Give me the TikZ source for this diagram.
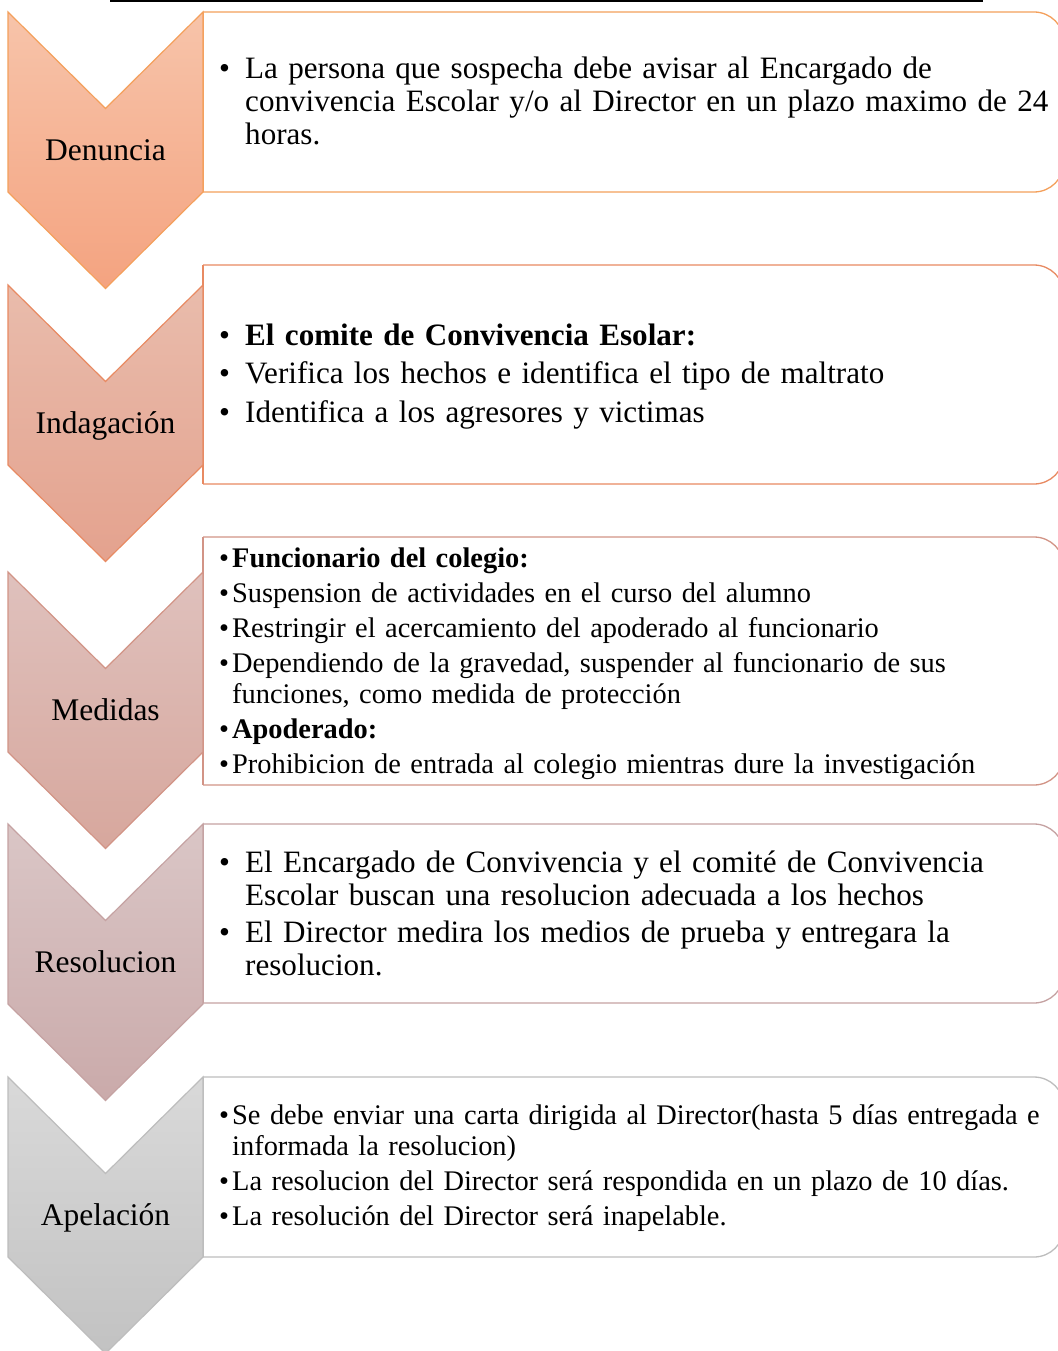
\documentclass[tikz,border=0pt]{standalone}
\usepackage{fontspec}
\setmainfont{Liberation Serif}
\newcommand\itm[2][26pt]{\hangindent=#1\hangafter=1\noindent\makebox[#1][l]{•}#2\par}
\newcommand\txtinit[1]{\setlength{\parindent}{0pt}\setlength{\parskip}{#1}}
\definecolor{c1t}{HTML}{F7C4AA}\definecolor{c1b}{HTML}{F4A380}\definecolor{c1l}{HTML}{F4A05C}
\definecolor{c2t}{HTML}{E9BCAC}\definecolor{c2b}{HTML}{E4A28E}\definecolor{c2l}{HTML}{E88A62}
\definecolor{c3t}{HTML}{DFC1BD}\definecolor{c3b}{HTML}{D7A79D}\definecolor{c3l}{HTML}{D29486}
\definecolor{c4t}{HTML}{DAC6C6}\definecolor{c4b}{HTML}{CAAAAA}\definecolor{c4l}{HTML}{C5A2A2}
\definecolor{c5t}{HTML}{D9D9D9}\definecolor{c5b}{HTML}{C2C2C2}\definecolor{c5l}{HTML}{BDBDBD}
\tikzset{
  chev/.style={line width=1.2pt, line join=miter},
  boxline/.style={line width=1.3pt},
  lbl/.style={font=\fontsize{31.5}{36}\selectfont, inner sep=0pt},
  txt/.style={inner sep=0pt, text width=845pt, align=left, anchor=base west},
  bigtxt/.style={txt, font=\fontsize{31.1}{33}\selectfont},
  smalltxt/.style={txt, font=\fontsize{28.4}{31}\selectfont},
}
\begin{document}
\begin{tikzpicture}[x=1pt,y=-1pt]
\useasboundingbox (0,0) rectangle (1057,1351);
\fill[white] (0,0) rectangle (1057,1351);
\draw[line width=2pt] (110,1) -- (983,1);

% boxes
\foreach \T/\B/\c in {12/192/c1l, 265/484/c2l, 537/785/c3l, 824/1003/c4l, 1077/1257/c5l}{
  \draw[boxline, draw=\c, rounded corners=30pt] (203,\T) -- (1064,\T) -- (1064,\B) -- (203,\B);
  \draw[boxline, draw=\c] (203,\T) -- (203,\B);
}

% chevrons
\foreach \T/\S/\n in {12/192/1, 285/465/2, 572/752/3, 824/1004/4, 1077/1257/5}{
  \shade[chev, top color=c\n t, bottom color=c\n b, draw=c\n l]
    (8,\T) -- (105.5,\T+96.5) -- (203,\T) -- (203,\S) -- (105.5,\S+96.5) -- (8,\S) -- cycle;
}

\node[lbl] (l1) at (105.5,150) {Denuncia};
\node[lbl] (l2) at (105.5,426) {Indagación};
\node[lbl] (l3) at (105.5,710) {Medidas};
\node[lbl] (l4) at (105.5,962) {Resolucion};
\node[lbl] (l5) at (105.5,1218) {Apelación};

\node[bigtxt] (t1) at (219,79) {\txtinit{0pt}%
\itm{La persona que sospecha debe avisar al Encargado de\newline convivencia Escolar y/o al Director en un plazo maximo de 24\newline horas.}};

\node[bigtxt] (t2) at (219,345) {\txtinit{5.5pt}%
\itm{\textbf{El comite de Convivencia Esolar:}}%
\itm{Verifica los hechos e identifica el tipo de maltrato}%
\itm{Identifica a los agresores y victimas}};

\node[smalltxt] (t3) at (219,567) {\txtinit{4pt}%
\itm[13pt]{\textbf{Funcionario del colegio:}}%
\itm[13pt]{Suspension de actividades en el curso del alumno}%
\itm[13pt]{Restringir el acercamiento del apoderado al funcionario}%
\itm[13pt]{Dependiendo de la gravedad, suspender al funcionario de sus\newline funciones, como medida de protección}%
\itm[13pt]{\textbf{Apoderado:}}%
\itm[13pt]{Prohibicion de entrada al colegio mientras dure la investigación}};

\node[bigtxt] (t4) at (219,872) {\txtinit{4pt}%
\itm{El Encargado de Convivencia y el comité de Convivencia\newline Escolar buscan una resolucion adecuada a los hechos}%
\itm{El Director medira los medios de prueba y entregara la\newline resolucion.}};

\node[smalltxt] (t5) at (219,1124.5) {\txtinit{4pt}%
\itm[13pt]{Se debe enviar una carta dirigida al Director(hasta 5 días entregada e\newline informada la resolucion)}%
\itm[13pt]{La resolucion del Director será respondida en un plazo de 10 días.}%
\itm[13pt]{La resolución del Director será inapelable.}};
\end{tikzpicture}
\end{document}
